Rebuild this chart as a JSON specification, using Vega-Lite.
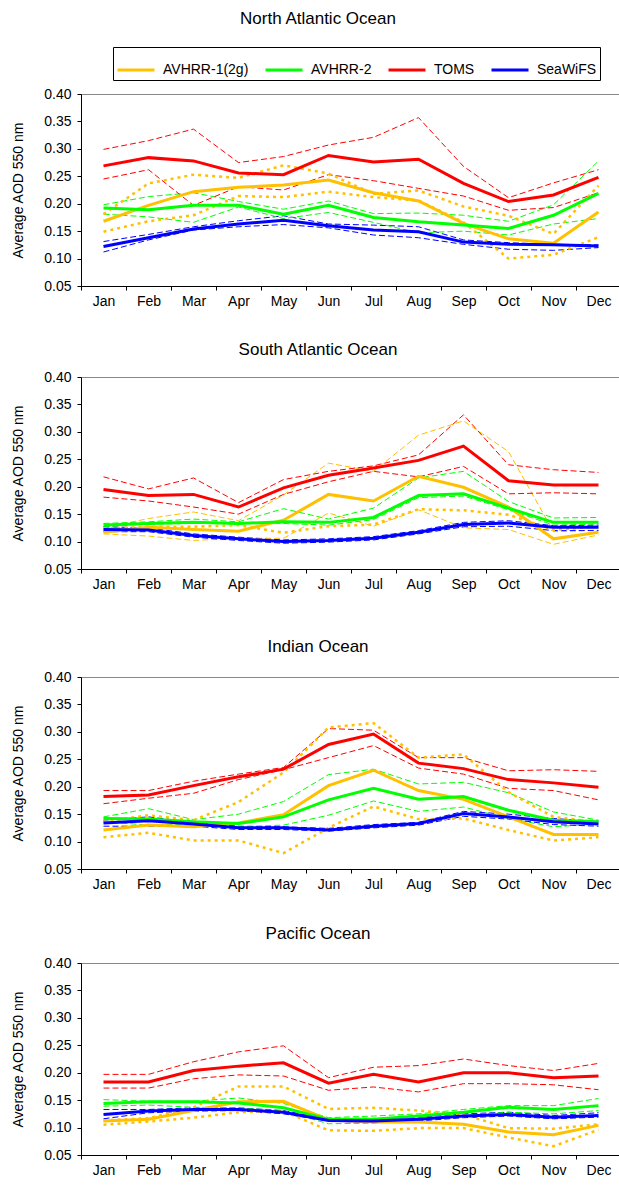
{
"$schema": "https://vega.github.io/schema/vega-lite/v6.json",
"background": "white",
"padding": {"left": 11, "top": 9, "right": 0, "bottom": 0},
"config": {
  "font": "Liberation Sans",
  "view": {"stroke": "#888888", "strokeWidth": 1},
  "axis": {"grid": false, "domainColor": "black", "tickColor": "black", "labelColor": "black", "labelFont": "Liberation Sans", "labelFontSize": 14, "titleFont": "Liberation Sans", "titleFontWeight": "normal", "titleColor": "black"},
  "axisY": {"tickSize": 4, "labelPadding": 6, "titleFontSize": 14, "titlePadding": 18},
  "axisX": {"tickSize": 4, "labelPadding": 4, "labelAngle": 0},
  "title": {"font": "Liberation Sans", "fontSize": 17, "fontWeight": "normal", "color": "black", "anchor": "middle", "dx": -33}
},
"datasets": {
"na": [
{"month":"Jan","series":"AVHRR-1(2g)","mean":0.168,"upper":0.181,"lower":0.149},
{"month":"Feb","series":"AVHRR-1(2g)","mean":0.197,"upper":0.237,"lower":0.168},
{"month":"Mar","series":"AVHRR-1(2g)","mean":0.222,"upper":0.253,"lower":0.179},
{"month":"Apr","series":"AVHRR-1(2g)","mean":0.230,"upper":0.247,"lower":0.214},
{"month":"May","series":"AVHRR-1(2g)","mean":0.234,"upper":0.270,"lower":0.212},
{"month":"Jun","series":"AVHRR-1(2g)","mean":0.243,"upper":0.255,"lower":0.222},
{"month":"Jul","series":"AVHRR-1(2g)","mean":0.220,"upper":0.218,"lower":0.212},
{"month":"Aug","series":"AVHRR-1(2g)","mean":0.205,"upper":0.224,"lower":0.206},
{"month":"Sep","series":"AVHRR-1(2g)","mean":0.164,"upper":0.195,"lower":0.166},
{"month":"Oct","series":"AVHRR-1(2g)","mean":0.136,"upper":0.178,"lower":0.100},
{"month":"Nov","series":"AVHRR-1(2g)","mean":0.128,"upper":0.145,"lower":0.107},
{"month":"Dec","series":"AVHRR-1(2g)","mean":0.185,"upper":0.233,"lower":0.139},
{"month":"Jan","series":"AVHRR-2","mean":0.192,"upper":0.198,"lower":0.181},
{"month":"Feb","series":"AVHRR-2","mean":0.189,"upper":0.213,"lower":0.176},
{"month":"Mar","series":"AVHRR-2","mean":0.197,"upper":0.220,"lower":0.166},
{"month":"Apr","series":"AVHRR-2","mean":0.197,"upper":0.204,"lower":0.194},
{"month":"May","series":"AVHRR-2","mean":0.181,"upper":0.190,"lower":0.173},
{"month":"Jun","series":"AVHRR-2","mean":0.197,"upper":0.205,"lower":0.184},
{"month":"Jul","series":"AVHRR-2","mean":0.175,"upper":0.182,"lower":0.166},
{"month":"Aug","series":"AVHRR-2","mean":0.167,"upper":0.183,"lower":0.147},
{"month":"Sep","series":"AVHRR-2","mean":0.161,"upper":0.179,"lower":0.150},
{"month":"Oct","series":"AVHRR-2","mean":0.155,"upper":0.168,"lower":0.143},
{"month":"Nov","series":"AVHRR-2","mean":0.179,"upper":0.198,"lower":0.163},
{"month":"Dec","series":"AVHRR-2","mean":0.219,"upper":0.278,"lower":0.173},
{"month":"Jan","series":"TOMS","mean":0.269,"upper":0.299,"lower":0.245},
{"month":"Feb","series":"TOMS","mean":0.284,"upper":0.315,"lower":0.262},
{"month":"Mar","series":"TOMS","mean":0.278,"upper":0.336,"lower":0.197},
{"month":"Apr","series":"TOMS","mean":0.256,"upper":0.275,"lower":0.231},
{"month":"May","series":"TOMS","mean":0.253,"upper":0.286,"lower":0.225},
{"month":"Jun","series":"TOMS","mean":0.288,"upper":0.307,"lower":0.253},
{"month":"Jul","series":"TOMS","mean":0.276,"upper":0.321,"lower":0.242},
{"month":"Aug","series":"TOMS","mean":0.281,"upper":0.357,"lower":0.228},
{"month":"Sep","series":"TOMS","mean":0.237,"upper":0.268,"lower":0.214},
{"month":"Oct","series":"TOMS","mean":0.204,"upper":0.211,"lower":0.188},
{"month":"Nov","series":"TOMS","mean":0.216,"upper":0.238,"lower":0.193},
{"month":"Dec","series":"TOMS","mean":0.248,"upper":0.262,"lower":0.220},
{"month":"Jan","series":"SeaWiFS","mean":0.122,"upper":0.131,"lower":0.112},
{"month":"Feb","series":"SeaWiFS","mean":0.138,"upper":0.144,"lower":0.134},
{"month":"Mar","series":"SeaWiFS","mean":0.154,"upper":0.158,"lower":0.152},
{"month":"Apr","series":"SeaWiFS","mean":0.163,"upper":0.169,"lower":0.158},
{"month":"May","series":"SeaWiFS","mean":0.170,"upper":0.178,"lower":0.162},
{"month":"Jun","series":"SeaWiFS","mean":0.160,"upper":0.163,"lower":0.156},
{"month":"Jul","series":"SeaWiFS","mean":0.152,"upper":0.161,"lower":0.143},
{"month":"Aug","series":"SeaWiFS","mean":0.149,"upper":0.158,"lower":0.138},
{"month":"Sep","series":"SeaWiFS","mean":0.130,"upper":0.134,"lower":0.126},
{"month":"Oct","series":"SeaWiFS","mean":0.126,"upper":0.129,"lower":0.117},
{"month":"Nov","series":"SeaWiFS","mean":0.125,"upper":0.126,"lower":0.115},
{"month":"Dec","series":"SeaWiFS","mean":0.123,"upper":0.125,"lower":0.120}
],
"sa": [
{"month":"Jan","series":"AVHRR-1(2g)","mean":0.117,"upper":0.125,"lower":0.114,"alt":0.124},
{"month":"Feb","series":"AVHRR-1(2g)","mean":0.126,"upper":0.142,"lower":0.110,"alt":0.127},
{"month":"Mar","series":"AVHRR-1(2g)","mean":0.122,"upper":0.154,"lower":0.102,"alt":0.127},
{"month":"Apr","series":"AVHRR-1(2g)","mean":0.119,"upper":0.138,"lower":0.106,"alt":0.130},
{"month":"May","series":"AVHRR-1(2g)","mean":0.139,"upper":0.185,"lower":0.106,"alt":0.116},
{"month":"Jun","series":"AVHRR-1(2g)","mean":0.186,"upper":0.243,"lower":0.152,"alt":0.128},
{"month":"Jul","series":"AVHRR-1(2g)","mean":0.174,"upper":0.228,"lower":0.128,"alt":0.131},
{"month":"Aug","series":"AVHRR-1(2g)","mean":0.219,"upper":0.294,"lower":0.158,"alt":0.159},
{"month":"Sep","series":"AVHRR-1(2g)","mean":0.199,"upper":0.320,"lower":0.125,"alt":0.157},
{"month":"Oct","series":"AVHRR-1(2g)","mean":0.163,"upper":0.264,"lower":0.122,"alt":0.149},
{"month":"Nov","series":"AVHRR-1(2g)","mean":0.105,"upper":0.118,"lower":0.095,"alt":0.121},
{"month":"Dec","series":"AVHRR-1(2g)","mean":0.117,"upper":0.121,"lower":0.112,"alt":0.128},
{"month":"Jan","series":"AVHRR-2","mean":0.130,"upper":0.133,"lower":0.127},
{"month":"Feb","series":"AVHRR-2","mean":0.133,"upper":0.136,"lower":0.132},
{"month":"Mar","series":"AVHRR-2","mean":0.135,"upper":0.141,"lower":0.133},
{"month":"Apr","series":"AVHRR-2","mean":0.133,"upper":0.136,"lower":0.133},
{"month":"May","series":"AVHRR-2","mean":0.136,"upper":0.160,"lower":0.133},
{"month":"Jun","series":"AVHRR-2","mean":0.135,"upper":0.141,"lower":0.130},
{"month":"Jul","series":"AVHRR-2","mean":0.144,"upper":0.161,"lower":0.140},
{"month":"Aug","series":"AVHRR-2","mean":0.184,"upper":0.216,"lower":0.180},
{"month":"Sep","series":"AVHRR-2","mean":0.187,"upper":0.228,"lower":0.183},
{"month":"Oct","series":"AVHRR-2","mean":0.161,"upper":0.173,"lower":0.158},
{"month":"Nov","series":"AVHRR-2","mean":0.135,"upper":0.143,"lower":0.130},
{"month":"Dec","series":"AVHRR-2","mean":0.135,"upper":0.144,"lower":0.132},
{"month":"Jan","series":"TOMS","mean":0.195,"upper":0.218,"lower":0.181},
{"month":"Feb","series":"TOMS","mean":0.184,"upper":0.196,"lower":0.174},
{"month":"Mar","series":"TOMS","mean":0.186,"upper":0.216,"lower":0.163},
{"month":"Apr","series":"TOMS","mean":0.163,"upper":0.171,"lower":0.150},
{"month":"May","series":"TOMS","mean":0.198,"upper":0.213,"lower":0.186},
{"month":"Jun","series":"TOMS","mean":0.221,"upper":0.228,"lower":0.209},
{"month":"Jul","series":"TOMS","mean":0.234,"upper":0.238,"lower":0.228},
{"month":"Aug","series":"TOMS","mean":0.248,"upper":0.258,"lower":0.218},
{"month":"Sep","series":"TOMS","mean":0.274,"upper":0.331,"lower":0.237},
{"month":"Oct","series":"TOMS","mean":0.211,"upper":0.240,"lower":0.187},
{"month":"Nov","series":"TOMS","mean":0.203,"upper":0.231,"lower":0.189},
{"month":"Dec","series":"TOMS","mean":0.203,"upper":0.226,"lower":0.187},
{"month":"Jan","series":"SeaWiFS","mean":0.122,"upper":0.127,"lower":0.118},
{"month":"Feb","series":"SeaWiFS","mean":0.121,"upper":0.125,"lower":0.118},
{"month":"Mar","series":"SeaWiFS","mean":0.111,"upper":0.114,"lower":0.108},
{"month":"Apr","series":"SeaWiFS","mean":0.105,"upper":0.108,"lower":0.102},
{"month":"May","series":"SeaWiFS","mean":0.100,"upper":0.103,"lower":0.097},
{"month":"Jun","series":"SeaWiFS","mean":0.102,"upper":0.105,"lower":0.099},
{"month":"Jul","series":"SeaWiFS","mean":0.106,"upper":0.109,"lower":0.103},
{"month":"Aug","series":"SeaWiFS","mean":0.117,"upper":0.120,"lower":0.114},
{"month":"Sep","series":"SeaWiFS","mean":0.131,"upper":0.135,"lower":0.127},
{"month":"Oct","series":"SeaWiFS","mean":0.134,"upper":0.138,"lower":0.128},
{"month":"Nov","series":"SeaWiFS","mean":0.126,"upper":0.129,"lower":0.120},
{"month":"Dec","series":"SeaWiFS","mean":0.126,"upper":0.130,"lower":0.120}
],
"io": [
{"month":"Jan","series":"AVHRR-1(2g)","mean":0.121,"upper":0.136,"lower":0.108},
{"month":"Feb","series":"AVHRR-1(2g)","mean":0.130,"upper":0.148,"lower":0.116},
{"month":"Mar","series":"AVHRR-1(2g)","mean":0.127,"upper":0.139,"lower":0.102},
{"month":"Apr","series":"AVHRR-1(2g)","mean":0.134,"upper":0.172,"lower":0.102},
{"month":"May","series":"AVHRR-1(2g)","mean":0.149,"upper":0.226,"lower":0.079},
{"month":"Jun","series":"AVHRR-1(2g)","mean":0.202,"upper":0.308,"lower":0.125},
{"month":"Jul","series":"AVHRR-1(2g)","mean":0.230,"upper":0.316,"lower":0.164},
{"month":"Aug","series":"AVHRR-1(2g)","mean":0.193,"upper":0.253,"lower":0.141},
{"month":"Sep","series":"AVHRR-1(2g)","mean":0.177,"upper":0.259,"lower":0.142},
{"month":"Oct","series":"AVHRR-1(2g)","mean":0.145,"upper":0.190,"lower":0.121},
{"month":"Nov","series":"AVHRR-1(2g)","mean":0.113,"upper":0.145,"lower":0.102},
{"month":"Dec","series":"AVHRR-1(2g)","mean":0.113,"upper":0.135,"lower":0.108},
{"month":"Jan","series":"AVHRR-2","mean":0.142,"upper":0.145,"lower":0.136},
{"month":"Feb","series":"AVHRR-2","mean":0.141,"upper":0.160,"lower":0.130},
{"month":"Mar","series":"AVHRR-2","mean":0.136,"upper":0.140,"lower":0.132},
{"month":"Apr","series":"AVHRR-2","mean":0.133,"upper":0.150,"lower":0.127},
{"month":"May","series":"AVHRR-2","mean":0.145,"upper":0.173,"lower":0.130},
{"month":"Jun","series":"AVHRR-2","mean":0.176,"upper":0.222,"lower":0.148},
{"month":"Jul","series":"AVHRR-2","mean":0.197,"upper":0.232,"lower":0.174},
{"month":"Aug","series":"AVHRR-2","mean":0.177,"upper":0.205,"lower":0.155},
{"month":"Sep","series":"AVHRR-2","mean":0.182,"upper":0.208,"lower":0.163},
{"month":"Oct","series":"AVHRR-2","mean":0.157,"upper":0.189,"lower":0.142},
{"month":"Nov","series":"AVHRR-2","mean":0.139,"upper":0.154,"lower":0.127},
{"month":"Dec","series":"AVHRR-2","mean":0.136,"upper":0.139,"lower":0.132},
{"month":"Jan","series":"TOMS","mean":0.182,"upper":0.193,"lower":0.169},
{"month":"Feb","series":"TOMS","mean":0.185,"upper":0.193,"lower":0.179},
{"month":"Mar","series":"TOMS","mean":0.202,"upper":0.210,"lower":0.188},
{"month":"Apr","series":"TOMS","mean":0.218,"upper":0.223,"lower":0.213},
{"month":"May","series":"TOMS","mean":0.232,"upper":0.235,"lower":0.231},
{"month":"Jun","series":"TOMS","mean":0.277,"upper":0.306,"lower":0.253},
{"month":"Jul","series":"TOMS","mean":0.296,"upper":0.303,"lower":0.275},
{"month":"Aug","series":"TOMS","mean":0.243,"upper":0.253,"lower":0.234},
{"month":"Sep","series":"TOMS","mean":0.233,"upper":0.253,"lower":0.223},
{"month":"Oct","series":"TOMS","mean":0.213,"upper":0.229,"lower":0.197},
{"month":"Nov","series":"TOMS","mean":0.207,"upper":0.231,"lower":0.193},
{"month":"Dec","series":"TOMS","mean":0.199,"upper":0.228,"lower":0.176},
{"month":"Jan","series":"SeaWiFS","mean":0.134,"upper":0.139,"lower":0.128},
{"month":"Feb","series":"SeaWiFS","mean":0.138,"upper":0.145,"lower":0.128},
{"month":"Mar","series":"SeaWiFS","mean":0.132,"upper":0.135,"lower":0.128},
{"month":"Apr","series":"SeaWiFS","mean":0.125,"upper":0.128,"lower":0.122},
{"month":"May","series":"SeaWiFS","mean":0.125,"upper":0.127,"lower":0.122},
{"month":"Jun","series":"SeaWiFS","mean":0.121,"upper":0.124,"lower":0.119},
{"month":"Jul","series":"SeaWiFS","mean":0.128,"upper":0.131,"lower":0.125},
{"month":"Aug","series":"SeaWiFS","mean":0.133,"upper":0.135,"lower":0.130},
{"month":"Sep","series":"SeaWiFS","mean":0.151,"upper":0.155,"lower":0.146},
{"month":"Oct","series":"SeaWiFS","mean":0.145,"upper":0.150,"lower":0.141},
{"month":"Nov","series":"SeaWiFS","mean":0.136,"upper":0.142,"lower":0.131},
{"month":"Dec","series":"SeaWiFS","mean":0.132,"upper":0.137,"lower":0.128}
],
"po": [
{"month":"Jan","series":"AVHRR-1(2g)","mean":0.112,"upper":0.113,"lower":0.105},
{"month":"Feb","series":"AVHRR-1(2g)","mean":0.115,"upper":0.117,"lower":0.111},
{"month":"Mar","series":"AVHRR-1(2g)","mean":0.131,"upper":0.137,"lower":0.118},
{"month":"Apr","series":"AVHRR-1(2g)","mean":0.147,"upper":0.175,"lower":0.128},
{"month":"May","series":"AVHRR-1(2g)","mean":0.148,"upper":0.175,"lower":0.130},
{"month":"Jun","series":"AVHRR-1(2g)","mean":0.114,"upper":0.134,"lower":0.095},
{"month":"Jul","series":"AVHRR-1(2g)","mean":0.110,"upper":0.136,"lower":0.094},
{"month":"Aug","series":"AVHRR-1(2g)","mean":0.110,"upper":0.131,"lower":0.099},
{"month":"Sep","series":"AVHRR-1(2g)","mean":0.106,"upper":0.124,"lower":0.099},
{"month":"Oct","series":"AVHRR-1(2g)","mean":0.092,"upper":0.099,"lower":0.082},
{"month":"Nov","series":"AVHRR-1(2g)","mean":0.087,"upper":0.098,"lower":0.066},
{"month":"Dec","series":"AVHRR-1(2g)","mean":0.104,"upper":0.106,"lower":0.096},
{"month":"Jan","series":"AVHRR-2","mean":0.144,"upper":0.151,"lower":0.139},
{"month":"Feb","series":"AVHRR-2","mean":0.147,"upper":0.148,"lower":0.141},
{"month":"Mar","series":"AVHRR-2","mean":0.147,"upper":0.148,"lower":0.137},
{"month":"Apr","series":"AVHRR-2","mean":0.145,"upper":0.154,"lower":0.136},
{"month":"May","series":"AVHRR-2","mean":0.136,"upper":0.144,"lower":0.130},
{"month":"Jun","series":"AVHRR-2","mean":0.115,"upper":0.118,"lower":0.107},
{"month":"Jul","series":"AVHRR-2","mean":0.115,"upper":0.121,"lower":0.108},
{"month":"Aug","series":"AVHRR-2","mean":0.121,"upper":0.125,"lower":0.113},
{"month":"Sep","series":"AVHRR-2","mean":0.128,"upper":0.133,"lower":0.122},
{"month":"Oct","series":"AVHRR-2","mean":0.137,"upper":0.140,"lower":0.128},
{"month":"Nov","series":"AVHRR-2","mean":0.133,"upper":0.140,"lower":0.125},
{"month":"Dec","series":"AVHRR-2","mean":0.140,"upper":0.153,"lower":0.131},
{"month":"Jan","series":"TOMS","mean":0.183,"upper":0.197,"lower":0.172},
{"month":"Feb","series":"TOMS","mean":0.183,"upper":0.197,"lower":0.172},
{"month":"Mar","series":"TOMS","mean":0.204,"upper":0.220,"lower":0.189},
{"month":"Apr","series":"TOMS","mean":0.212,"upper":0.238,"lower":0.196},
{"month":"May","series":"TOMS","mean":0.218,"upper":0.249,"lower":0.194},
{"month":"Jun","series":"TOMS","mean":0.181,"upper":0.191,"lower":0.168},
{"month":"Jul","series":"TOMS","mean":0.197,"upper":0.210,"lower":0.174},
{"month":"Aug","series":"TOMS","mean":0.183,"upper":0.213,"lower":0.165},
{"month":"Sep","series":"TOMS","mean":0.200,"upper":0.225,"lower":0.180},
{"month":"Oct","series":"TOMS","mean":0.200,"upper":0.213,"lower":0.180},
{"month":"Nov","series":"TOMS","mean":0.191,"upper":0.204,"lower":0.178},
{"month":"Dec","series":"TOMS","mean":0.194,"upper":0.217,"lower":0.169},
{"month":"Jan","series":"SeaWiFS","mean":0.124,"upper":0.133,"lower":0.116},
{"month":"Feb","series":"SeaWiFS","mean":0.130,"upper":0.133,"lower":0.127},
{"month":"Mar","series":"SeaWiFS","mean":0.133,"upper":0.136,"lower":0.130},
{"month":"Apr","series":"SeaWiFS","mean":0.133,"upper":0.136,"lower":0.131},
{"month":"May","series":"SeaWiFS","mean":0.128,"upper":0.131,"lower":0.125},
{"month":"Jun","series":"SeaWiFS","mean":0.113,"upper":0.115,"lower":0.112},
{"month":"Jul","series":"SeaWiFS","mean":0.112,"upper":0.116,"lower":0.109},
{"month":"Aug","series":"SeaWiFS","mean":0.115,"upper":0.119,"lower":0.112},
{"month":"Sep","series":"SeaWiFS","mean":0.121,"upper":0.125,"lower":0.118},
{"month":"Oct","series":"SeaWiFS","mean":0.124,"upper":0.128,"lower":0.121},
{"month":"Nov","series":"SeaWiFS","mean":0.119,"upper":0.122,"lower":0.116},
{"month":"Dec","series":"SeaWiFS","mean":0.122,"upper":0.127,"lower":0.119}
]
},
"resolve": {"scale": {"color": "independent"}, "legend": {"color": "independent"}},
"spacing": 45,
"vconcat": [
{
"resolve": {"scale": {"color": "independent"}, "legend": {"color": "independent"}},
"spacing": 31,
"vconcat": [
{
"title": {"text": "North Atlantic Ocean", "offset": 19},
"width": 540, "height": 192,
"data": {"name": "na"},
"encoding": {
  "x": {"field": "month", "type": "ordinal", "sort": ["Jan","Feb","Mar","Apr","May","Jun","Jul","Aug","Sep","Oct","Nov","Dec"], "scale": {"type": "band", "paddingInner": 0, "paddingOuter": 0}, "axis": {"title": null, "tickBand": "extent"}},
  "color": {"field": "series", "type": "nominal", "scale": {"domain": ["AVHRR-1(2g)","AVHRR-2","TOMS","SeaWiFS"], "range": ["#FFC000","#00FF00","#FF0000","#0000FF"]},
    "legend": {"orient": "none", "legendX": 32, "legendY": -47, "direction": "horizontal", "title": null, "symbolType": "stroke", "symbolStrokeWidth": 3, "symbolSize": 1369, "symbolDash": [1,0], "labelFontSize": 14, "labelFont": "Liberation Sans", "labelColor": "black", "strokeColor": "black", "padding": 3, "columnPadding": 10, "labelOffset": 7, "labelLimit": 200}}
},
"layer": [
  {"transform": [{"filter": "datum.series !== 'AVHRR-1(2g)'"}], "mark": {"type": "line", "strokeWidth": 1, "strokeDash": [6,3]},
   "encoding": {"y": {"field": "upper", "type": "quantitative", "scale": {"domain": [0.05,0.4], "nice": false, "zero": false}, "axis": {"title": "Average AOD 550 nm", "values": [0.05,0.1,0.15,0.2,0.25,0.3,0.35,0.4], "format": ".2f"}}}},
  {"transform": [{"filter": "datum.series !== 'AVHRR-1(2g)'"}], "mark": {"type": "line", "strokeWidth": 1, "strokeDash": [6,3]},
   "encoding": {"y": {"field": "lower", "type": "quantitative", "scale": {"domain": [0.05,0.4], "nice": false, "zero": false}, "axis": {"title": "Average AOD 550 nm", "values": [0.05,0.1,0.15,0.2,0.25,0.3,0.35,0.4], "format": ".2f"}}}},
  {"transform": [{"filter": "datum.series === 'AVHRR-1(2g)'"}], "mark": {"type": "line", "strokeWidth": 2.5, "strokeDash": [3,4]},
   "encoding": {"y": {"field": "upper", "type": "quantitative", "scale": {"domain": [0.05,0.4], "nice": false, "zero": false}, "axis": {"title": "Average AOD 550 nm", "values": [0.05,0.1,0.15,0.2,0.25,0.3,0.35,0.4], "format": ".2f"}}}},
  {"transform": [{"filter": "datum.series === 'AVHRR-1(2g)'"}], "mark": {"type": "line", "strokeWidth": 2.5, "strokeDash": [3,4]},
   "encoding": {"y": {"field": "lower", "type": "quantitative", "scale": {"domain": [0.05,0.4], "nice": false, "zero": false}, "axis": {"title": "Average AOD 550 nm", "values": [0.05,0.1,0.15,0.2,0.25,0.3,0.35,0.4], "format": ".2f"}}}},
  {"mark": {"type": "line", "strokeWidth": 3},
   "encoding": {"y": {"field": "mean", "type": "quantitative", "scale": {"domain": [0.05,0.4], "nice": false, "zero": false}, "axis": {"title": "Average AOD 550 nm", "values": [0.05,0.1,0.15,0.2,0.25,0.3,0.35,0.4], "format": ".2f"}}}}
]
},
{
"title": {"text": "South Atlantic Ocean", "offset": 11},
"width": 540, "height": 192,
"data": {"name": "sa"},
"encoding": {
  "x": {"field": "month", "type": "ordinal", "sort": ["Jan","Feb","Mar","Apr","May","Jun","Jul","Aug","Sep","Oct","Nov","Dec"], "scale": {"type": "band", "paddingInner": 0, "paddingOuter": 0}, "axis": {"title": null, "tickBand": "extent"}},
  "color": {"field": "series", "type": "nominal", "scale": {"domain": ["AVHRR-1(2g)","AVHRR-2","TOMS","SeaWiFS"], "range": ["#FFC000","#00FF00","#FF0000","#0000FF"]}, "legend": null}
},
"layer": [
  {"mark": {"type": "line", "strokeWidth": 1, "strokeDash": [6,3]},
   "encoding": {"y": {"field": "upper", "type": "quantitative", "scale": {"domain": [0.05,0.4], "nice": false, "zero": false}, "axis": {"title": "Average AOD 550 nm", "values": [0.05,0.1,0.15,0.2,0.25,0.3,0.35,0.4], "format": ".2f"}}}},
  {"mark": {"type": "line", "strokeWidth": 1, "strokeDash": [6,3]},
   "encoding": {"y": {"field": "lower", "type": "quantitative", "scale": {"domain": [0.05,0.4], "nice": false, "zero": false}, "axis": {"title": "Average AOD 550 nm", "values": [0.05,0.1,0.15,0.2,0.25,0.3,0.35,0.4], "format": ".2f"}}}},
  {"transform": [{"filter": "datum.series === 'AVHRR-1(2g)'"}], "mark": {"type": "line", "strokeWidth": 2.5, "strokeDash": [3,4]},
   "encoding": {"y": {"field": "alt", "type": "quantitative", "scale": {"domain": [0.05,0.4], "nice": false, "zero": false}, "axis": {"title": "Average AOD 550 nm", "values": [0.05,0.1,0.15,0.2,0.25,0.3,0.35,0.4], "format": ".2f"}}}},
  {"mark": {"type": "line", "strokeWidth": 3},
   "encoding": {"y": {"field": "mean", "type": "quantitative", "scale": {"domain": [0.05,0.4], "nice": false, "zero": false}, "axis": {"title": "Average AOD 550 nm", "values": [0.05,0.1,0.15,0.2,0.25,0.3,0.35,0.4], "format": ".2f"}}}}
]
}
]
},
{
"resolve": {"scale": {"color": "independent"}, "legend": {"color": "independent"}},
"spacing": 32,
"vconcat": [
{
"title": {"text": "Indian Ocean", "offset": 14},
"width": 540, "height": 192,
"data": {"name": "io"},
"encoding": {
  "x": {"field": "month", "type": "ordinal", "sort": ["Jan","Feb","Mar","Apr","May","Jun","Jul","Aug","Sep","Oct","Nov","Dec"], "scale": {"type": "band", "paddingInner": 0, "paddingOuter": 0}, "axis": {"title": null, "tickBand": "extent"}},
  "color": {"field": "series", "type": "nominal", "scale": {"domain": ["AVHRR-1(2g)","AVHRR-2","TOMS","SeaWiFS"], "range": ["#FFC000","#00FF00","#FF0000","#0000FF"]}, "legend": null}
},
"layer": [
  {"transform": [{"filter": "datum.series !== 'AVHRR-1(2g)'"}], "mark": {"type": "line", "strokeWidth": 1, "strokeDash": [6,3]},
   "encoding": {"y": {"field": "upper", "type": "quantitative", "scale": {"domain": [0.05,0.4], "nice": false, "zero": false}, "axis": {"title": "Average AOD 550 nm", "values": [0.05,0.1,0.15,0.2,0.25,0.3,0.35,0.4], "format": ".2f"}}}},
  {"transform": [{"filter": "datum.series !== 'AVHRR-1(2g)'"}], "mark": {"type": "line", "strokeWidth": 1, "strokeDash": [6,3]},
   "encoding": {"y": {"field": "lower", "type": "quantitative", "scale": {"domain": [0.05,0.4], "nice": false, "zero": false}, "axis": {"title": "Average AOD 550 nm", "values": [0.05,0.1,0.15,0.2,0.25,0.3,0.35,0.4], "format": ".2f"}}}},
  {"transform": [{"filter": "datum.series === 'AVHRR-1(2g)'"}], "mark": {"type": "line", "strokeWidth": 2.5, "strokeDash": [3,4]},
   "encoding": {"y": {"field": "upper", "type": "quantitative", "scale": {"domain": [0.05,0.4], "nice": false, "zero": false}, "axis": {"title": "Average AOD 550 nm", "values": [0.05,0.1,0.15,0.2,0.25,0.3,0.35,0.4], "format": ".2f"}}}},
  {"transform": [{"filter": "datum.series === 'AVHRR-1(2g)'"}], "mark": {"type": "line", "strokeWidth": 2.5, "strokeDash": [3,4]},
   "encoding": {"y": {"field": "lower", "type": "quantitative", "scale": {"domain": [0.05,0.4], "nice": false, "zero": false}, "axis": {"title": "Average AOD 550 nm", "values": [0.05,0.1,0.15,0.2,0.25,0.3,0.35,0.4], "format": ".2f"}}}},
  {"mark": {"type": "line", "strokeWidth": 3},
   "encoding": {"y": {"field": "mean", "type": "quantitative", "scale": {"domain": [0.05,0.4], "nice": false, "zero": false}, "axis": {"title": "Average AOD 550 nm", "values": [0.05,0.1,0.15,0.2,0.25,0.3,0.35,0.4], "format": ".2f"}}}}
]
},
{
"title": {"text": "Pacific Ocean", "offset": 13},
"width": 540, "height": 192,
"data": {"name": "po"},
"encoding": {
  "x": {"field": "month", "type": "ordinal", "sort": ["Jan","Feb","Mar","Apr","May","Jun","Jul","Aug","Sep","Oct","Nov","Dec"], "scale": {"type": "band", "paddingInner": 0, "paddingOuter": 0}, "axis": {"title": null, "tickBand": "extent"}},
  "color": {"field": "series", "type": "nominal", "scale": {"domain": ["AVHRR-1(2g)","AVHRR-2","TOMS","SeaWiFS"], "range": ["#FFC000","#00FF00","#FF0000","#0000FF"]}, "legend": null}
},
"layer": [
  {"transform": [{"filter": "datum.series !== 'AVHRR-1(2g)'"}], "mark": {"type": "line", "strokeWidth": 1, "strokeDash": [6,3]},
   "encoding": {"y": {"field": "upper", "type": "quantitative", "scale": {"domain": [0.05,0.4], "nice": false, "zero": false}, "axis": {"title": "Average AOD 550 nm", "values": [0.05,0.1,0.15,0.2,0.25,0.3,0.35,0.4], "format": ".2f"}}}},
  {"transform": [{"filter": "datum.series !== 'AVHRR-1(2g)'"}], "mark": {"type": "line", "strokeWidth": 1, "strokeDash": [6,3]},
   "encoding": {"y": {"field": "lower", "type": "quantitative", "scale": {"domain": [0.05,0.4], "nice": false, "zero": false}, "axis": {"title": "Average AOD 550 nm", "values": [0.05,0.1,0.15,0.2,0.25,0.3,0.35,0.4], "format": ".2f"}}}},
  {"transform": [{"filter": "datum.series === 'AVHRR-1(2g)'"}], "mark": {"type": "line", "strokeWidth": 2.5, "strokeDash": [3,4]},
   "encoding": {"y": {"field": "upper", "type": "quantitative", "scale": {"domain": [0.05,0.4], "nice": false, "zero": false}, "axis": {"title": "Average AOD 550 nm", "values": [0.05,0.1,0.15,0.2,0.25,0.3,0.35,0.4], "format": ".2f"}}}},
  {"transform": [{"filter": "datum.series === 'AVHRR-1(2g)'"}], "mark": {"type": "line", "strokeWidth": 2.5, "strokeDash": [3,4]},
   "encoding": {"y": {"field": "lower", "type": "quantitative", "scale": {"domain": [0.05,0.4], "nice": false, "zero": false}, "axis": {"title": "Average AOD 550 nm", "values": [0.05,0.1,0.15,0.2,0.25,0.3,0.35,0.4], "format": ".2f"}}}},
  {"mark": {"type": "line", "strokeWidth": 3},
   "encoding": {"y": {"field": "mean", "type": "quantitative", "scale": {"domain": [0.05,0.4], "nice": false, "zero": false}, "axis": {"title": "Average AOD 550 nm", "values": [0.05,0.1,0.15,0.2,0.25,0.3,0.35,0.4], "format": ".2f"}}}}
]
}
]
}
]
}
